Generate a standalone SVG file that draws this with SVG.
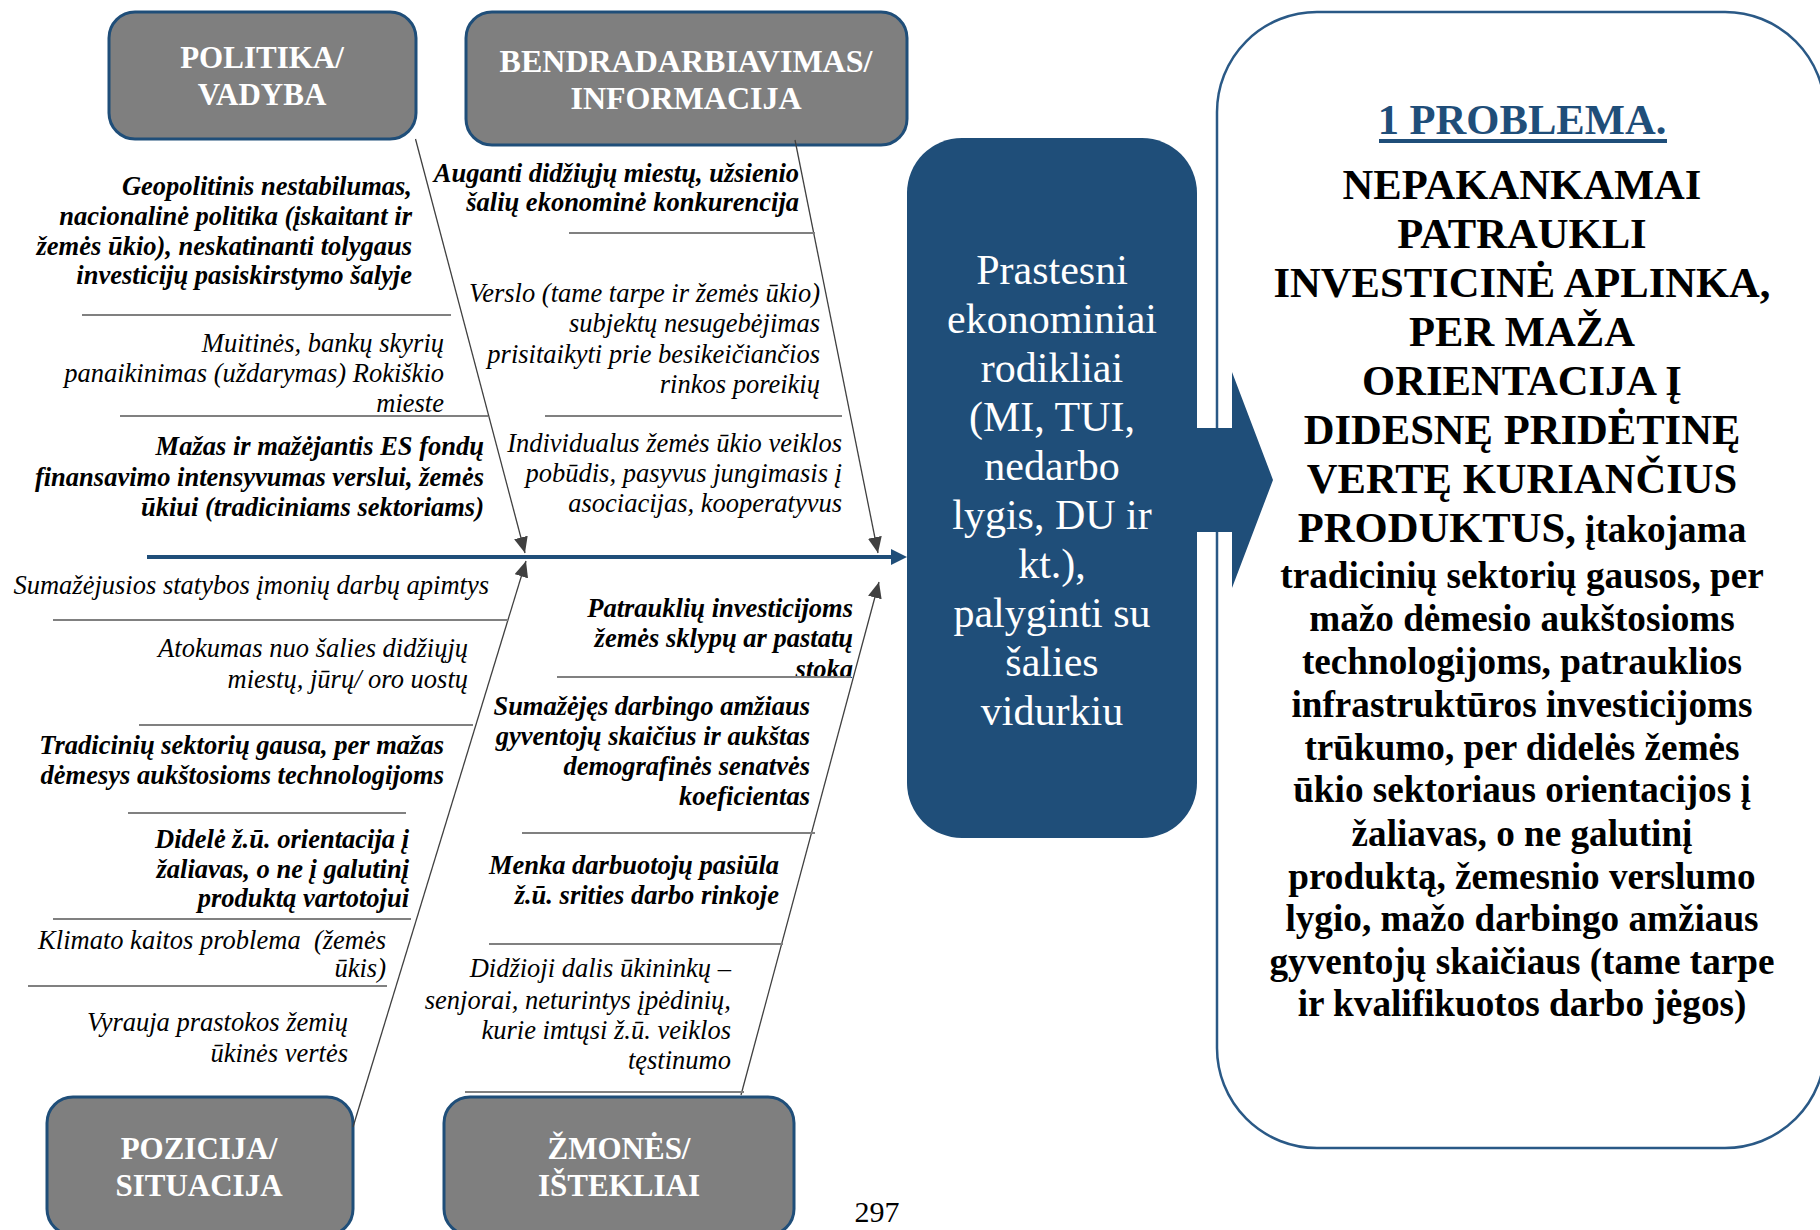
<svg xmlns="http://www.w3.org/2000/svg" width="1820" height="1230" viewBox="0 0 1820 1230">
<style>
text{font-family:"Liberation Serif","Times New Roman",serif}
.cat{fill:#7f7f7f;stroke:#1f4e79;stroke-width:3}
.catt{font-weight:bold;font-size:31px;fill:#fff;text-anchor:middle}
.c{font-style:italic;font-size:26.5px;text-anchor:end;fill:#000}
.b{font-weight:bold}
.sep{stroke:#808080;stroke-width:2}
.bone{stroke:#404040;stroke-width:1.3;fill:none;marker-end:url(#ah)}
.rt{font-size:42px;fill:#fff;text-anchor:middle}
.pt{font-weight:bold;font-size:42.6px;text-anchor:middle;fill:#000}
.ps{font-weight:bold;font-size:37.2px;text-anchor:middle;fill:#000}
</style>
<defs>
<marker id="ah" markerUnits="userSpaceOnUse" markerWidth="16" markerHeight="14" refX="16" refY="7" orient="auto">
<path d="M0,0 L16,7 L0,14 z" fill="#404040"/>
</marker>
</defs>
<rect width="1820" height="1230" fill="#fff"/>

<g id="politika-vadyba">
<rect class="cat" x="109" y="12" width="307" height="127" rx="26"/>
<text class="catt" x="262" y="68">POLITIKA/</text>
<text class="catt" x="262" y="105">VADYBA</text>
</g>
<g id="bendradarbiavimas-informacija">
<rect class="cat" x="466" y="12" width="441" height="133" rx="26"/>
<text class="catt" x="686" y="72" style="font-size:32px">BENDRADARBIAVIMAS/</text>
<text class="catt" x="686" y="109" style="font-size:32px">INFORMACIJA</text>
</g>
<g id="pozicija-situacija">
<rect class="cat" x="47" y="1097" width="306" height="138" rx="26"/>
<text class="catt" x="199" y="1159">POZICIJA/</text>
<text class="catt" x="199" y="1196">SITUACIJA</text>
</g>
<g id="zmones-istekliai">
<rect class="cat" x="444" y="1097" width="350" height="138" rx="26"/>
<text class="catt" x="619" y="1159">ŽMONĖS/</text>
<text class="catt" x="619" y="1196">IŠTEKLIAI</text>
</g>

<g id="rezultatas">
<rect x="907" y="138" width="290" height="700" rx="55" fill="#1f4e79"/>
<text class="rt" x="1052" y="284">Prastesni</text>
<text class="rt" x="1052" y="333">ekonominiai</text>
<text class="rt" x="1052" y="382">rodikliai</text>
<text class="rt" x="1052" y="431">(MI, TUI,</text>
<text class="rt" x="1052" y="480">nedarbo</text>
<text class="rt" x="1052" y="529">lygis, DU ir</text>
<text class="rt" x="1052" y="578">kt.),</text>
<text class="rt" x="1052" y="627">palyginti su</text>
<text class="rt" x="1052" y="676">šalies</text>
<text class="rt" x="1052" y="725">vidurkiu</text>
</g>

<g id="problema">
<rect x="1217" y="12" width="608" height="1136" rx="100" fill="#fff" stroke="#2a5986" stroke-width="2.5"/>
<text class="pt" x="1522" y="134" style="fill:#1f4e79">1 PROBLEMA.</text>
<rect x="1379" y="139" width="288" height="4" fill="#1f4e79"/>
<text class="pt" x="1522" y="199">NEPAKANKAMAI</text>
<text class="pt" x="1522" y="248">PATRAUKLI</text>
<text class="pt" x="1522" y="297">INVESTICINĖ APLINKA,</text>
<text class="pt" x="1522" y="346">PER MAŽA</text>
<text class="pt" x="1522" y="395">ORIENTACIJA Į</text>
<text class="pt" x="1522" y="444">DIDESNĘ PRIDĖTINĘ</text>
<text class="pt" x="1522" y="493">VERTĘ KURIANČIUS</text>
<text class="pt" x="1522" y="542">PRODUKTUS,<tspan style="font-size:37.2px"> įtakojama</tspan></text>
<text class="ps" x="1522" y="588">tradicinių sektorių gausos, per</text>
<text class="ps" x="1522" y="631">mažo dėmesio aukštosioms</text>
<text class="ps" x="1522" y="674">technologijoms, patrauklios</text>
<text class="ps" x="1522" y="717">infrastruktūros investicijoms</text>
<text class="ps" x="1522" y="760">trūkumo, per didelės žemės</text>
<text class="ps" x="1522" y="802">ūkio sektoriaus orientacijos į</text>
<text class="ps" x="1522" y="846">žaliavas, o ne galutinį</text>
<text class="ps" x="1522" y="889">produktą, žemesnio verslumo</text>
<text class="ps" x="1522" y="931">lygio, mažo darbingo amžiaus</text>
<text class="ps" x="1522" y="974">gyventojų skaičiaus (tame tarpe</text>
<text class="ps" x="1522" y="1016">ir kvalifikuotos darbo jėgos)</text>
</g>

<g id="connectors">
<line x1="147" y1="557" x2="893" y2="557" stroke="#1f4e79" stroke-width="4"/>
<polygon points="891,549 907,557 891,565" fill="#1f4e79"/>
<line class="bone" x1="415.5" y1="139" x2="525" y2="553"/>
<line class="bone" x1="795" y1="140" x2="878" y2="553"/>
<line class="bone" x1="353" y1="1127" x2="526" y2="561"/>
<line class="bone" x1="741" y1="1095" x2="879" y2="582"/>
<polygon points="1196,428 1232,428 1232,372 1273,480 1232,588 1232,532 1196,532" fill="#1f4e79"/>
</g>

<g id="causes-politika">
<text class="c b" x="412" y="195">Geopolitinis nestabilumas,</text>
<text class="c b" x="412" y="225">nacionalinė politika (įskaitant ir</text>
<text class="c b" x="412" y="255">žemės ūkio), neskatinanti tolygaus</text>
<text class="c b" x="412" y="284">investicijų pasiskirstymo šalyje</text>
<line class="sep" x1="82" y1="315" x2="451" y2="315"/>
<text class="c" x="444" y="352">Muitinės, bankų skyrių</text>
<text class="c" x="444" y="382">panaikinimas (uždarymas) Rokiškio</text>
<text class="c" x="444" y="412">mieste</text>
<line class="sep" x1="120" y1="416" x2="488" y2="416"/>
<text class="c b" x="484" y="455">Mažas ir mažėjantis ES fondų</text>
<text class="c b" x="484" y="486">finansavimo intensyvumas verslui, žemės</text>
<text class="c b" x="484" y="516">ūkiui (tradiciniams sektoriams)</text>
</g>

<g id="causes-bendradarbiavimas">
<text class="c b" x="799" y="182">Auganti didžiųjų miestų, užsienio</text>
<text class="c b" x="799" y="211">šalių ekonominė konkurencija</text>
<line class="sep" x1="569" y1="233" x2="815" y2="233"/>
<text class="c" x="820" y="302">Verslo (tame tarpe ir žemės ūkio)</text>
<text class="c" x="820" y="332">subjektų nesugebėjimas</text>
<text class="c" x="820" y="363">prisitaikyti prie besikeičiančios</text>
<text class="c" x="820" y="393">rinkos poreikių</text>
<line class="sep" x1="545" y1="416" x2="842" y2="416"/>
<text class="c" x="842" y="452">Individualus žemės ūkio veiklos</text>
<text class="c" x="842" y="482">pobūdis, pasyvus jungimasis į</text>
<text class="c" x="842" y="512">asociacijas, kooperatyvus</text>
</g>

<g id="causes-pozicija">
<text class="c" x="489" y="594">Sumažėjusios statybos įmonių darbų apimtys</text>
<line class="sep" x1="53" y1="620" x2="508" y2="620"/>
<text class="c" x="468" y="657">Atokumas nuo šalies didžiųjų</text>
<text class="c" x="468" y="688">miestų, jūrų/ oro uostų</text>
<line class="sep" x1="139" y1="725" x2="473" y2="725"/>
<text class="c b" x="444" y="754">Tradicinių sektorių gausa, per mažas</text>
<text class="c b" x="444" y="784">dėmesys aukštosioms technologijoms</text>
<line class="sep" x1="128" y1="813" x2="406" y2="813"/>
<text class="c b" x="409" y="848">Didelė ž.ū. orientacija į</text>
<text class="c b" x="409" y="878">žaliavas, o ne į galutinį</text>
<text class="c b" x="409" y="907">produktą vartotojui</text>
<line class="sep" x1="53" y1="919" x2="411" y2="919"/>
<text class="c" x="386" y="949">Klimato kaitos problema&#160; (žemės</text>
<text class="c" x="386" y="977">ūkis)</text>
<line class="sep" x1="28" y1="986" x2="387" y2="986"/>
<text class="c" x="348" y="1031">Vyrauja prastokos žemių</text>
<text class="c" x="348" y="1062">ūkinės vertės</text>
</g>

<g id="causes-zmones">
<text class="c b" x="853" y="617">Patrauklių investicijoms</text>
<text class="c b" x="853" y="647">žemės sklypų ar pastatų</text>
<text class="c b" x="853" y="678">stoka</text>
<line class="sep" x1="557" y1="677" x2="851" y2="677"/>
<text class="c b" x="810" y="715">Sumažėjęs darbingo amžiaus</text>
<text class="c b" x="810" y="745">gyventojų skaičius ir aukštas</text>
<text class="c b" x="810" y="775">demografinės senatvės</text>
<text class="c b" x="810" y="805">koeficientas</text>
<line class="sep" x1="522" y1="833" x2="815" y2="833"/>
<text class="c b" x="779" y="874">Menka darbuotojų pasiūla</text>
<text class="c b" x="779" y="904">ž.ū. srities darbo rinkoje</text>
<line class="sep" x1="489" y1="944" x2="783" y2="944"/>
<text class="c" x="731" y="977">Didžioji dalis ūkininkų –</text>
<text class="c" x="731" y="1009">senjorai, neturintys įpėdinių,</text>
<text class="c" x="731" y="1039">kurie imtųsi ž.ū. veiklos</text>
<text class="c" x="731" y="1069">tęstinumo</text>
<line class="sep" x1="465" y1="1092" x2="744" y2="1092"/>
</g>

<text x="877" y="1222" font-size="30" text-anchor="middle">297</text>
</svg>
